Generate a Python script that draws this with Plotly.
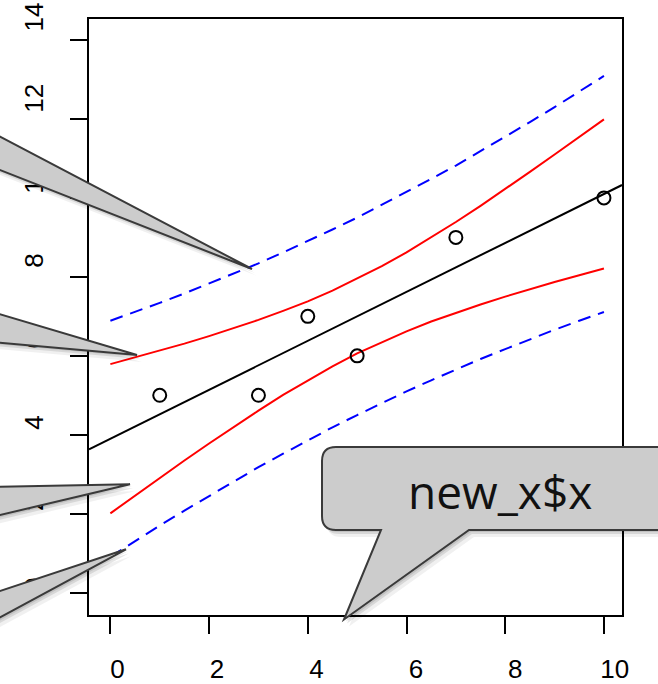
import plotly.graph_objects as go

# ---------------- data ----------------
x_obs = [1, 3, 4, 5, 7, 10]
y_obs = [5, 5, 7, 6, 9, 10]

fit_intercept = 3.9
fit_slope = 0.62

new_x = [0, 0.5, 1, 1.5, 2, 2.5, 3, 3.5, 4, 4.5, 5,
         5.5, 6, 6.5, 7, 7.5, 8, 8.5, 9, 9.5, 10]
conf_upr = [5.79, 5.96, 6.13, 6.31, 6.50, 6.70, 6.91, 7.14, 7.38, 7.65, 7.95,
            8.27, 8.62, 9.00, 9.39, 9.80, 10.22, 10.66, 11.10, 11.54, 11.99]
conf_lwr = [2.01, 2.46, 2.91, 3.35, 3.78, 4.20, 4.61, 5.01, 5.38, 5.73, 6.06,
            6.35, 6.62, 6.87, 7.09, 7.30, 7.50, 7.69, 7.87, 8.04, 8.21]
pred_upr = [6.89, 7.11, 7.34, 7.58, 7.83, 8.08, 8.34, 8.62, 8.90, 9.20, 9.50,
            9.82, 10.14, 10.48, 10.82, 11.18, 11.55, 11.92, 12.30, 12.69, 13.09]
pred_lwr = [0.91, 1.31, 1.70, 2.08, 2.45, 2.82, 3.18, 3.52, 3.86, 4.19, 4.50,
            4.81, 5.10, 5.38, 5.66, 5.92, 6.17, 6.42, 6.66, 6.89, 7.11]

x_ticks = [0, 2, 4, 6, 8, 10]
y_ticks = [0, 2, 4, 6, 8, 10, 12, 14]
x_tick_text = [str(v) for v in x_ticks]
y_tick_text = [str(v) for v in y_ticks]
callout_text = "new_x$x"

# ---------------- layout geometry ----------------
W, H = 658, 684
ML, MR, MT, MB = 89, 36, 19, 69
PW, PH = W - ML - MR, H - MT - MB
x_range = [-0.433, 10.366]
y_range = [-0.565, 14.532]


def P(px, py):
    return f"{(px - ML) / PW:.5f},{(H - MB - py) / PH:.5f}"


def poly(points):
    return "M " + " L ".join(P(a, b) for a, b in points) + " Z"


def shifted(points, dx, dy):
    return [(a + dx, b + dy) for a, b in points]


fig = go.Figure()

# regression line (abline across the plot)
fig.add_trace(go.Scatter(
    x=x_range, y=[fit_intercept + fit_slope * v for v in x_range],
    mode="lines", line=dict(color="black", width=2), showlegend=False,
    hoverinfo="skip"))

for ys in (conf_upr, conf_lwr):
    fig.add_trace(go.Scatter(x=new_x, y=ys, mode="lines",
                             line=dict(color="#ff0000", width=2),
                             showlegend=False))
for ys in (pred_upr, pred_lwr):
    fig.add_trace(go.Scatter(x=new_x, y=ys, mode="lines",
                             line=dict(color="#0000ff", width=2, dash="13px,8px"),
                             showlegend=False))

fig.add_trace(go.Scatter(x=x_obs, y=y_obs, mode="markers",
                         marker=dict(symbol="circle-open", size=13,
                                     color="black", line=dict(width=2)),
                         showlegend=False))

# dummy trace for label axes
fig.add_trace(go.Scatter(x=[None], y=[None], xaxis="x2", yaxis="y2",
                         showlegend=False, hoverinfo="skip"))

# ---------------- callouts ----------------
callouts = [
    [(-80, 94.7), (252, 269), (-80, 138.6)],
    [(-80, 290.5), (137, 355), (-80, 335.5)],
    [(-80, 488.2), (130, 484.3), (-80, 533.9)],
    [(-80, 617.5), (126, 549.3), (-80, 660.5)],
]

shapes = []
fill = "#cccccc"
edge = "#3a3a3a"


def add_callout(path_fn, pts):
    for (dx, dy, a) in [(5, 7, 0.06), (3, 4, 0.10), (2, 2, 0.10)]:
        shapes.append(dict(type="path", xref="paper", yref="paper",
                           path=path_fn(shifted(pts, dx, dy)),
                           fillcolor=f"rgba(0,0,0,{a})",
                           line=dict(width=0), layer="above"))
    shapes.append(dict(type="path", xref="paper", yref="paper",
                       path=path_fn(pts), fillcolor=fill,
                       line=dict(color=edge, width=2), layer="above"))


for pts in callouts:
    add_callout(poly, pts)

# big bubble with rounded corners
r = 14
bx0, by0, bx1, by1 = 322, 447, 720, 530
tail = [(469, 530), (344, 619.5), (381, 530)]


def bubble_path(pts):
    dx = pts[0][0] - bx0
    dy = pts[0][1] - by0
    x0, y0, x1, y1 = bx0 + dx, by0 + dy, bx1 + dx, by1 + dy
    t = [(a + dx, b + dy) for a, b in tail]
    s = "M " + P(x0 + r, y0)
    s += " L " + P(x1, y0)
    s += " L " + P(x1, y1)
    s += " L " + P(*t[0]) + " L " + P(*t[1]) + " L " + P(*t[2])
    s += " L " + P(x0 + r, y1)
    s += " Q " + P(x0, y1) + " " + P(x0, y1 - r)
    s += " L " + P(x0, y0 + r)
    s += " Q " + P(x0, y0) + " " + P(x0 + r, y0)
    s += " Z"
    return s


add_callout(bubble_path, [(bx0, by0)])

label_font = dict(family="Liberation Sans", size=26, color="black")

fig.update_layout(
    width=W, height=H,
    margin=dict(l=ML, r=MR, t=MT, b=MB, pad=0, autoexpand=False),
    paper_bgcolor="white", plot_bgcolor="white",
    showlegend=False,
    shapes=shapes,
    xaxis=dict(range=x_range, tickvals=x_ticks, showticklabels=False,
               ticks="outside", ticklen=17, tickwidth=2, tickcolor="black",
               showline=True, linewidth=2, linecolor="black", mirror=True,
               showgrid=False, zeroline=False, automargin=False),
    yaxis=dict(range=y_range, tickvals=y_ticks, showticklabels=False,
               ticks="outside", ticklen=17, tickwidth=2, tickcolor="black",
               showline=True, linewidth=2, linecolor="black", mirror=True,
               showgrid=False, zeroline=False, automargin=False),
    xaxis2=dict(overlaying="x", anchor="y", side="bottom",
                range=[-0.573, 10.145], tickvals=x_ticks, ticktext=x_tick_text,
                ticks="outside", ticklen=31, tickcolor="rgba(0,0,0,0)",
                showline=False, showgrid=False, zeroline=False,
                automargin=False, tickfont=label_font),
    yaxis2=dict(overlaying="y", anchor="x", side="left",
                range=[-0.649, 14.049], tickvals=y_ticks, ticktext=y_tick_text,
                tickangle=-90,
                ticks="outside", ticklen=35, tickcolor="rgba(0,0,0,0)",
                showline=False, showgrid=False, zeroline=False,
                automargin=False,
                tickfont=dict(family="Liberation Sans", size=26, color="black")),
    annotations=[dict(text=callout_text, xref="paper", yref="paper",
                      x=(500 - ML) / PW, y=(H - MB - 491) / PH,
                      xanchor="center", yanchor="middle", showarrow=False,
                      font=dict(family="Open Sans", size=46, color="#111111"))],
)

fig.write_html("out.html")
